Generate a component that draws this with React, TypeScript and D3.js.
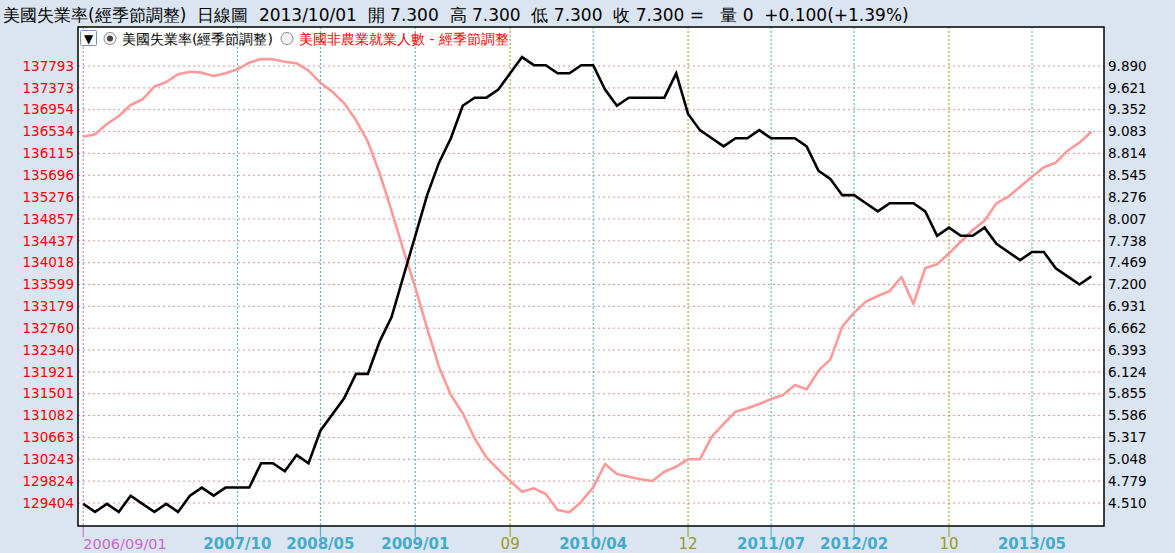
import React from 'react';
import * as d3 from 'd3';

// monthly points, 2006/09 .. 2013/10
const months = d3.timeMonth.range(new Date(2006, 8, 1), new Date(2013, 10, 1));

// 美國失業率(經季節調整), right axis
const unemployment = [
  4.5, 4.4, 4.5, 4.4,
  4.6, 4.5, 4.4, 4.5, 4.4, 4.6, 4.7, 4.6, 4.7, 4.7, 4.7, 5.0,
  5.0, 4.9, 5.1, 5.0, 5.4, 5.6, 5.8, 6.1, 6.1, 6.5, 6.8, 7.3,
  7.8, 8.3, 8.7, 9.0, 9.4, 9.5, 9.5, 9.6, 9.8, 10.0, 9.9, 9.9,
  9.8, 9.8, 9.9, 9.9, 9.6, 9.4, 9.5, 9.5, 9.5, 9.5, 9.8, 9.3,
  9.1, 9.0, 8.9, 9.0, 9.0, 9.1, 9.0, 9.0, 9.0, 8.9, 8.6, 8.5,
  8.3, 8.3, 8.2, 8.1, 8.2, 8.2, 8.2, 8.1, 7.8, 7.9, 7.8, 7.8,
  7.9, 7.7, 7.6, 7.5, 7.6, 7.6, 7.4, 7.3, 7.2, 7.3,
];

// 美國非農業就業人數 - 經季節調整, left axis
const payrolls = [
  136436, 136482, 136680, 136833,
  137044, 137154, 137396, 137486, 137634, 137684, 137665, 137601, 137653, 137730, 137856, 137927,
  137922, 137876, 137845, 137703, 137473, 137300, 137077, 136756, 136340, 135733, 135010, 134261,
  133545, 132758, 132021, 131477, 131126, 130646, 130281, 130051, 129826, 129621, 129686, 129577,
  129270, 129225, 129429, 129705, 130153, 129961, 129909, 129859, 129826, 130005, 130101, 130243,
  130243, 130677, 130921, 131157, 131222, 131304, 131401, 131477, 131669, 131586, 131944, 132162,
  132789, 133058, 133269, 133378, 133474, 133743, 133224, 133915, 133986, 134197, 134420, 134645,
  134824, 135157, 135284, 135476, 135668, 135848, 135937, 136167, 136321, 136532,
];

const leftTicks = [
  129404, 129824, 130243, 130663, 131082, 131501, 131921, 132340, 132760, 133179, 133599,
  134018, 134437, 134857, 135276, 135696, 136115, 136534, 136954, 137373, 137793,
];
const rightTicks = [
  '4.510', '4.779', '5.048', '5.317', '5.586', '5.855', '6.124', '6.393', '6.662', '6.931', '7.200',
  '7.469', '7.738', '8.007', '8.276', '8.545', '8.814', '9.083', '9.352', '9.621', '9.890',
];

const xTickMonths = ['2006-09', '2007-10', '2008-05', '2009-01', '2009-09', '2010-04', '2010-12', '2011-07', '2012-02', '2012-10', '2013-05'];
const xTickLabels = ['2006/09/01', '2007/10', '2008/05', '2009/01', '09', '2010/04', '12', '2011/07', '2012/02', '10', '2013/05'];

const header = '美國失業率(經季節調整)  日線圖  2013/10/01  開 7.300  高 7.300  低 7.300  收 7.300 =   量 0  +0.100(+1.39%)';

const font = "Verdana, 'DejaVu Sans', sans-serif";
const bg = '#dbe5f1';
const L = 78, T = 27, R = 1104, B = 526;

const tickColor = (label: string, i: number) =>
  i === 0 ? '#cc66cc' : label.length === 2 ? '#999922' : '#44aacc';

export default function App() {
  const fmt = d3.timeFormat('%Y-%m');
  const keys = months.map(fmt);
  const x = d3.scalePoint<string>().domain(keys).range([83.2, 1091.3]);
  const yL = d3.scaleLinear().domain([129404, 137793]).range([503, 66]);
  const yR = d3.scaleLinear().domain([4.51, 9.89]).range([503, 66]);

  const payLine = d3.line<number>().x((_, i) => x(keys[i])!).y(d => yL(d))(payrolls) || '';
  const unLine = d3.line<number>().x((_, i) => x(keys[i])!).y(d => yR(d))(unemployment) || '';

  return (
    <svg width={1175} height={553} style={{ position: 'fixed', left: 0, top: 0, display: 'block' }} fontFamily={font}>
      <rect width={1175} height={553} fill={bg} />
      <text x={3} y={21} fontSize={17} style={{ whiteSpace: 'pre' }}>{header}</text>

      <rect x={L} y={T} width={R - L} height={B - T} fill="#fff" />

      {leftTicks.map(t => (
        <line key={t} x1={L} x2={R} y1={yL(t)} y2={yL(t)} stroke="#cc9999" strokeDasharray="2,3" />
      ))}

      {xTickMonths.map((m, i) => {
        const xx = x(m)!;
        const c = tickColor(xTickLabels[i], i);
        const first = i === 0;
        return (
          <g key={m}>
            <line x1={xx} x2={xx} y1={T} y2={B} stroke={c} strokeDasharray="2,2" />
            <line x1={xx} x2={xx} y1={B} y2={537} stroke={c} />
            <text x={xx} y={549} fill={c} fontSize={first ? 14.5 : 15}
              fontWeight={first || xTickLabels[i].length === 2 ? 'normal' : 'bold'}
              textAnchor={first ? 'start' : 'middle'}>{xTickLabels[i]}</text>
          </g>
        );
      })}

      <path d={payLine} fill="none" stroke="#ff9999" strokeWidth={2.6} strokeLinejoin="round" />
      <path d={unLine} fill="none" stroke="#000" strokeWidth={2.6} />

      <rect x={L} y={T} width={R - L} height={B - T} fill="none" stroke="#000" strokeWidth={1.5} />

      {leftTicks.map(t => (
        <text key={t} x={74} y={yL(t)} dy="0.35em" textAnchor="end" fill="#ff0000" fontSize={13.5}>{t}</text>
      ))}
      {rightTicks.map(t => (
        <text key={t} x={1108} y={yR(+t)} dy="0.35em" fill="#000" fontSize={13.5}>{t}</text>
      ))}

      <g>
        <rect x={80.5} y={30.5} width={16} height={15} fill="#fff" stroke="#7a94b8" rx={1} />
        <text x={88.5} y={43} textAnchor="middle" fontSize={12}>▼</text>
        <circle cx={110} cy={38.5} r={6} fill="#f4f4f4" stroke="#8a8a8a" />
        <circle cx={110} cy={38.5} r={3} fill="#444" />
        <text x={122} y={44} fontSize={14}>美國失業率(經季節調整)</text>
        <circle cx={287} cy={38.5} r={6} fill="#f4f4f4" stroke="#8a8a8a" />
        <text x={299} y={44} fontSize={14} fill="#ff0000" style={{ whiteSpace: 'pre' }}>美國非農業就業人數 - 經季節調整</text>
      </g>
    </svg>
  );
}
